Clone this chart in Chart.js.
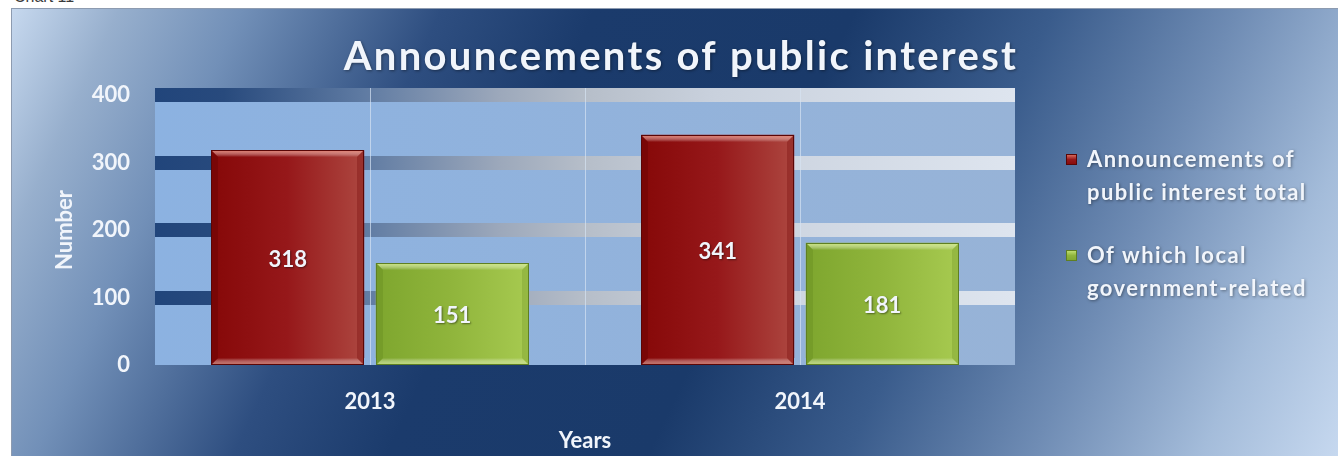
<!DOCTYPE html>
<html>
<head>
<meta charset="utf-8">
<script src="https://cdn.jsdelivr.net/npm/chart.js@4/dist/chart.umd.min.js"></script>
<style>
  html, body { margin: 0; padding: 0; background: #ffffff; overflow: hidden; width: 1338px; height: 456px; }
  #caption { position: absolute; left: 14px; top: -12px; font: 16px "Liberation Sans", Arial, sans-serif; color: #3a3a3a; }
  #frame {
    position: absolute; left: 11px; top: 8px; width: 1326px; height: 447px;
    border-left: 1px solid #8d9bb0; border-top: 1px solid #8d9bb0;
    background: linear-gradient(115deg, #c6d8ee 0%, #97afcd 7%, #7290b8 15%, #2e4e80 28%, #1b3b6c 38%, #1a3a6a 55%, #3a5c8c 68%, #6f8cb4 80%, #a4bcda 91%, #c6d8ef 100%);
  }
  canvas { display: block; }
</style>
</head>
<body>
<div id="caption">Chart 11</div>
<div id="frame"><canvas id="chart" width="1326" height="447"></canvas></div>
<script>
// Values
const chartTitle = 'Announcements of public interest';
const categories = ['2013', '2014'];
const seriesLabels = ['Announcements of public interest total', 'Of which local government-related'];
const legendLines = [['Announcements of', 'public interest total'], ['Of which local', 'government-related']];
const totalAnnouncements = [318, 341];
const localGovernmentRelated = [151, 181];
const yTickValues = [0, 100, 200, 300, 400];
const yAxisTitle = 'Number';
const xAxisTitle = 'Years';

const FONT = 'Lato, "Open Sans", sans-serif';
const TEXT = '#f1f5fb';

// Bar palettes: body gradient (left -> right), bevel highlight, edge
const palettes = [
  { left: '#860808', mid: '#96181a', right: '#ad4740', top: '#e27a6a', bottom: '#c36a5e', side: '#6c0404', edge: '#5a0606' },
  { left: '#7ea62e', mid: '#90b53c', right: '#a7ca50', top: '#c9e67a', bottom: '#b9d872', side: '#6c9224', edge: '#5f7f22' }
];

// Light plot backdrop, drawn before the grid bands
const plotBackdrop = {
  id: 'plotBackdrop',
  beforeDraw(chart) {
    const { ctx, chartArea: a } = chart;
    const g = ctx.createLinearGradient(a.left, 0, a.right, 0);
    g.addColorStop(0, '#8cb2e1');
    g.addColorStop(1, '#97b3d7');
    ctx.save();
    ctx.fillStyle = g;
    ctx.fillRect(a.left, a.top - 7, a.right - a.left, a.bottom - a.top + 7);
    ctx.restore();
  }
};

// Thin vertical guides at category centres and between categories
const verticalGuides = {
  id: 'verticalGuides',
  beforeDatasetsDraw(chart) {
    const { ctx, chartArea: a, scales: { x } } = chart;
    const xs = [];
    categories.forEach((c, i) => xs.push(x.getPixelForValue(i)));
    for (let i = 0; i < categories.length - 1; i++) xs.push((x.getPixelForValue(i) + x.getPixelForValue(i + 1)) / 2);
    ctx.save();
    ctx.strokeStyle = 'rgba(214, 226, 242, 0.7)';
    ctx.lineWidth = 1;
    xs.forEach(px => {
      ctx.beginPath();
      ctx.moveTo(Math.round(px) + 0.5, a.top - 7);
      ctx.lineTo(Math.round(px) + 0.5, a.bottom);
      ctx.stroke();
    });
    ctx.restore();
  }
};

// Bevelled bar faces and value labels on top of the library's bars
const bevelBars = {
  id: 'bevelBars',
  afterDatasetsDraw(chart) {
    const { ctx } = chart;
    const zero = chart.scales.y.getPixelForValue(0);
    chart.data.datasets.forEach((ds, di) => {
      const meta = chart.getDatasetMeta(di);
      const p = palettes[di];
      meta.data.forEach((el, i) => {
        const { x, width } = el.getProps(['x', 'width'], true);
        const l = Math.round(x - width / 2), r = Math.round(x + width / 2);
        const t = Math.round(chart.scales.y.getPixelForValue(ds.data[i])), b = Math.round(zero);
        const bv = 7;
        ctx.save();
        // body
        const g = ctx.createLinearGradient(l, 0, r, 0);
        g.addColorStop(0, p.left);
        g.addColorStop(0.5, p.mid);
        g.addColorStop(1, p.right);
        ctx.fillStyle = g;
        ctx.fillRect(l, t, r - l, b - t);
        // top bevel
        const tg = ctx.createLinearGradient(0, t, 0, t + bv);
        tg.addColorStop(0, p.top);
        tg.addColorStop(1, 'rgba(255,255,255,0)');
        ctx.fillStyle = tg;
        ctx.beginPath();
        ctx.moveTo(l, t); ctx.lineTo(r, t); ctx.lineTo(r - bv, t + bv); ctx.lineTo(l + bv, t + bv); ctx.closePath();
        ctx.fill();
        // bottom bevel
        const bg = ctx.createLinearGradient(0, b - bv, 0, b);
        bg.addColorStop(0, 'rgba(255,255,255,0)');
        bg.addColorStop(1, p.bottom);
        ctx.fillStyle = bg;
        ctx.beginPath();
        ctx.moveTo(l, b); ctx.lineTo(r, b); ctx.lineTo(r - bv, b - bv); ctx.lineTo(l + bv, b - bv); ctx.closePath();
        ctx.fill();
        // left bevel
        ctx.fillStyle = p.side;
        ctx.globalAlpha = 0.5;
        ctx.beginPath();
        ctx.moveTo(l, t); ctx.lineTo(l + bv, t + bv); ctx.lineTo(l + bv, b - bv); ctx.lineTo(l, b); ctx.closePath();
        ctx.fill();
        // right bevel
        ctx.globalAlpha = 0.3;
        ctx.beginPath();
        ctx.moveTo(r, t); ctx.lineTo(r - bv, t + bv); ctx.lineTo(r - bv, b - bv); ctx.lineTo(r, b); ctx.closePath();
        ctx.fill();
        ctx.globalAlpha = 1;
        // edge
        ctx.strokeStyle = p.edge;
        ctx.lineWidth = 1;
        ctx.strokeRect(l + 0.5, t + 0.5, r - l - 1, b - t - 1);
        // value label
        ctx.font = 'bold 22px ' + FONT;
        ctx.fillStyle = TEXT;
        ctx.textAlign = 'center';
        ctx.textBaseline = 'middle';
        ctx.shadowColor = 'rgba(0,0,0,0.45)';
        ctx.shadowBlur = 2;
        ctx.shadowOffsetX = 1;
        ctx.shadowOffsetY = 1;
        ctx.fillText(String(ds.data[i]), x, (t + b) / 2 + 2);
        ctx.restore();
      });
    });
  }
};

// Title and the two-line legend on the right
const titleAndLegend = {
  id: 'titleAndLegend',
  afterDraw(chart) {
    const { ctx } = chart;
    ctx.save();
    ctx.shadowColor = 'rgba(0,0,0,0.4)';
    ctx.shadowBlur = 3;
    ctx.shadowOffsetX = 1;
    ctx.shadowOffsetY = 1;
    ctx.fillStyle = TEXT;
    ctx.font = 'bold 40px ' + FONT;
    ctx.letterSpacing = '2.3px';
    ctx.textAlign = 'center';
    ctx.textBaseline = 'alphabetic';
    ctx.fillText(chartTitle, 669, 61);

    ctx.font = 'bold 22px ' + FONT;
    ctx.letterSpacing = '1.4px';
    ctx.textAlign = 'left';
    const firstBaseline = [158, 254];
    legendLines.forEach((lines, di) => {
      const p = palettes[di];
      const by = firstBaseline[di];
      // swatch
      ctx.shadowColor = 'rgba(0,0,0,0)';
      const sx = 1054, sy = by - 13, ss = 11;
      const g = ctx.createLinearGradient(0, sy, 0, sy + ss);
      g.addColorStop(0, p.top);
      g.addColorStop(0.5, p.mid);
      g.addColorStop(1, p.left);
      ctx.fillStyle = g;
      ctx.fillRect(sx, sy, ss, ss);
      ctx.strokeStyle = p.edge;
      ctx.strokeRect(sx + 0.5, sy + 0.5, ss - 1, ss - 1);
      ctx.shadowColor = 'rgba(0,0,0,0.4)';
      ctx.fillStyle = TEXT;
      lines.forEach((line, k) => ctx.fillText(line, 1075, by + k * 33));
    });
    ctx.restore();
  }
};

const bandGradient = (context) => {
  const { chart, tick } = context;
  const a = chart.chartArea;
  if (!a) return 'rgba(0,0,0,0)';
  if (tick && tick.value === 0) return 'rgba(0,0,0,0)';
  const g = chart.ctx.createLinearGradient(a.left, 0, a.right, 0);
  g.addColorStop(0, '#21457b');
  g.addColorStop(0.08, '#284a7d');
  g.addColorStop(0.24, '#5e7aa2');
  g.addColorStop(0.4, '#9ca8bb');
  g.addColorStop(0.5, '#b6bec9');
  g.addColorStop(0.65, '#c9d1dd');
  g.addColorStop(1, '#dee5ef');
  return g;
};

new Chart(document.getElementById('chart'), {
  type: 'bar',
  data: {
    labels: categories,
    datasets: [
      { label: seriesLabels[0], data: totalAnnouncements, backgroundColor: palettes[0].mid, borderWidth: 0 },
      { label: seriesLabels[1], data: localGovernmentRelated, backgroundColor: palettes[1].mid, borderWidth: 0 }
    ]
  },
  options: {
    responsive: false,
    animation: false,
    events: [],
    categoryPercentage: 0.765,
    barPercentage: 0.93,
    layout: { padding: { left: 0, top: 86, right: 323, bottom: 0 } },
    plugins: { legend: { display: false }, title: { display: false }, tooltip: { enabled: false } },
    scales: {
      x: {
        grid: { display: false },
        border: { display: false },
        ticks: { color: TEXT, font: { family: FONT, size: 22, weight: 'bold' }, padding: 16 },
        title: { display: true, text: xAxisTitle, color: TEXT, font: { family: FONT, size: 22, weight: 'bold' }, padding: { top: 0, bottom: 2 } },
        afterFit(scale) { scale.height = 91; }
      },
      y: {
        min: yTickValues[0],
        max: yTickValues[yTickValues.length - 1],
        afterBuildTicks(scale) { scale.ticks = yTickValues.map(v => ({ value: v })); },
        grid: { color: bandGradient, lineWidth: 14, drawTicks: false },
        border: { display: false },
        ticks: { color: TEXT, font: { family: FONT, size: 22, weight: 'bold' }, padding: 25 },
        title: { display: true, text: yAxisTitle, color: TEXT, font: { family: FONT, size: 22, weight: 'bold' }, padding: { top: 40, bottom: 0 } },
        afterFit(scale) { scale.width = 143; }
      }
    }
  },
  plugins: [plotBackdrop, verticalGuides, bevelBars, titleAndLegend]
});
</script>
</body>
</html>
